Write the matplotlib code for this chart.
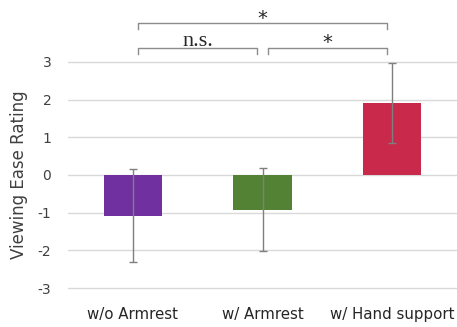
import matplotlib.pyplot as plt

# data
conditions = ['w/o Armrest', 'w/ Armrest', 'w/ Hand support']
means = [-1.08, -0.92, 1.90]
errors = [1.24, 1.10, 1.06]
colors = ['#7030A0', '#548235', '#C9294A']
yticks = [-3, -2, -1, 0, 1, 2, 3]

plt.rcParams['font.family'] = ['DejaVu Sans']

fig = plt.figure(figsize=(4.57, 3.27), dpi=100)
ax = fig.add_axes([68/457, 1-290/327, 1-68/457, (290-60)/327])

x = list(range(len(conditions)))
ax.bar(x, means, width=0.45, color=colors, zorder=2)
ax.errorbar(x, means, yerr=errors, fmt='none', ecolor='#7F7F7F',
            elinewidth=1, capsize=3, capthick=1, zorder=3)

ax.set_xlim(-0.5, 2.5)
ax.set_ylim(-3.05, 3.05)
ax.set_yticks(yticks)
ax.set_yticklabels([str(t) for t in yticks])
ax.set_xticks(x)
ax.set_xticklabels(conditions)
ax.yaxis.grid(True, color='#D9D9D9', linewidth=1, zorder=0)
ax.set_axisbelow(True)
for s in ax.spines.values():
    s.set_visible(False)
ax.tick_params(axis='y', length=0, pad=12, labelsize=10, labelcolor='#404040')
ax.tick_params(axis='x', length=0, pad=12, labelsize=10.8, labelcolor='#262626')
ax.set_ylabel('Viewing Ease Rating', fontsize=12, color='#404040', labelpad=7)

# significance brackets (drawn in data coords above the plot)
def bracket(x0, x1, y, h, text, fs, fam, dy):
    ax.plot([x0, x0, x1, x1], [y - h, y, y, y - h], color='#8C8C8C',
            linewidth=1, clip_on=False)
    ax.text((x0 + x1) / 2, y + dy, text, ha='center', va='bottom',
            fontsize=fs, family=fam, color='#262626', clip_on=False)

bracket(0.04, 1.96, 4.03, 0.17, '*', 14, 'DejaVu Sans', -0.12)
bracket(0.04, 0.96, 3.38, 0.17, 'n.s.', 16, 'Liberation Serif', -0.08)
bracket(1.04, 1.96, 3.38, 0.17, '*', 14, 'DejaVu Sans', -0.12)

fig.savefig('out.png', dpi=100)
